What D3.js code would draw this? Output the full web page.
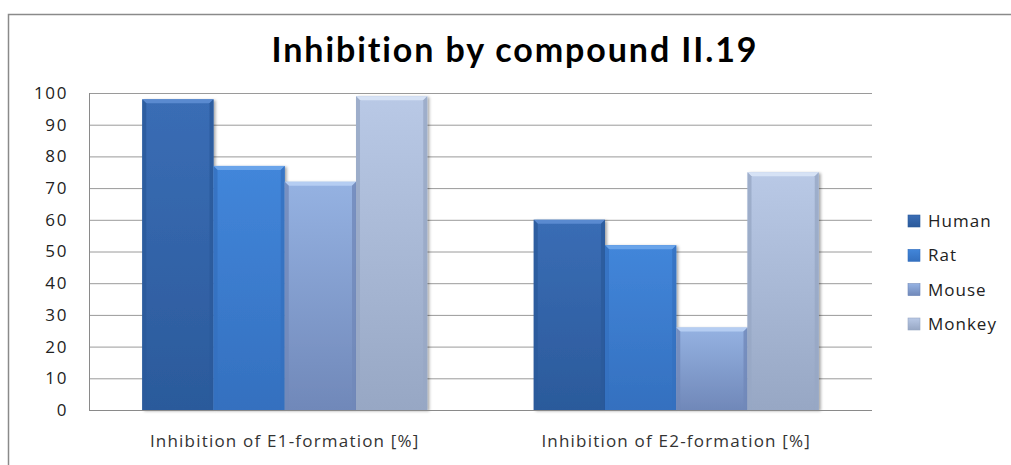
<!DOCTYPE html>
<html>
<head>
<meta charset="utf-8">
<script src="https://cdn.jsdelivr.net/npm/d3@7"></script>
<style>
  html, body { margin: 0; padding: 0; background: #fff; }
  svg text { font-family: "Open Sans", "Lato", sans-serif; }
</style>
</head>
<body>
<div id="chart"></div>
<script>
// data
const categories = ["Inhibition of E1-formation [%]", "Inhibition of E2-formation [%]"];
const seriesNames = ["Human", "Rat", "Mouse", "Monkey"];
const human = [98, 60];
const rat = [77, 52];
const mouse = [72, 26];
const monkey = [99, 75];
const yTicks = [0, 10, 20, 30, 40, 50, 60, 70, 80, 90, 100];
const title = "Inhibition by compound II.19";

// colours: [top of bar, bottom of bar, bevel highlight]
const colours = {
  Human:  ["#3a6db5", "#2b5a9b", "#5a8ad0"],
  Rat:    ["#4286da", "#3470bf", "#6aa4ea"],
  Mouse:  ["#95b2e2", "#7088b9", "#b5cdf2"],
  Monkey: ["#b9c9e6", "#97a7c4", "#d6e2f5"]
};

const W = 1011, H = 465;
const margin = { top: 93, right: 139, bottom: 55, left: 89 };

const svg = d3.select("#chart").append("svg")
    .attr("width", W)
    .attr("height", H);

const defs = svg.append("defs");
seriesNames.forEach((s) => {
  let g = defs.append("linearGradient")
      .attr("id", `grad-${s}`)
      .attr("x1", 0).attr("y1", 0).attr("x2", 0).attr("y2", 1);
  g.append("stop").attr("offset", "0%").attr("stop-color", colours[s][0]);
  g.append("stop").attr("offset", "100%").attr("stop-color", colours[s][1]);
});
let shadow = defs.append("filter").attr("id", "shadow")
    .attr("x", "-10%").attr("y", "-10%").attr("width", "130%").attr("height", "130%");
shadow.append("feDropShadow")
    .attr("dx", 2).attr("dy", 1).attr("stdDeviation", 1.5)
    .attr("flood-color", "#000").attr("flood-opacity", 0.35);

// outer chart border
svg.append("rect")
    .attr("x", 8.5).attr("y", 14.5)
    .attr("width", 1020).attr("height", 470)
    .attr("fill", "none")
    .attr("stroke", "#8a8a8a")
    .attr("stroke-width", 1.5);

svg.append("text")
    .attr("x", 515).attr("y", 62)
    .attr("text-anchor", "middle")
    .style("font-family", "Lato, 'Open Sans', sans-serif")
    .style("font-weight", "bold")
    .style("font-size", "34px")
    .style("letter-spacing", "1.9px")
    .attr("fill", "#000")
    .text(title);

const plotW = W - margin.left - margin.right;
const plotH = 410 - margin.top;

const plot = svg.append("g")
    .attr("transform", `translate(${margin.left},${margin.top})`);

const y = d3.scaleLinear().domain([0, 100]).range([plotH, 0]);
const x0 = d3.scaleBand().domain(categories).range([0, plotW])
    .paddingInner(0.272).paddingOuter(0.136);
const x1 = d3.scaleBand().domain(seriesNames).range([0, x0.bandwidth()]);

// gridlines
plot.append("g")
    .attr("class", "grid")
    .call(d3.axisLeft(y).tickValues(yTicks).tickSize(-plotW).tickFormat(""))
    .call(g => g.select(".domain").remove())
    .call(g => g.selectAll("line").attr("stroke", "#9a9a9a").attr("stroke-width", 1));

// y axis labels
plot.append("g")
    .call(d3.axisLeft(y).tickValues(yTicks).tickSize(0).tickPadding(21))
    .call(g => g.select(".domain").remove())
    .call(g => g.selectAll("text")
        .attr("fill", "#222")
        .style("font-size", "17px")
        .style("letter-spacing", "1.6px"));

// left axis line
plot.append("line")
    .attr("x1", 0.5).attr("x2", 0.5).attr("y1", 0).attr("y2", plotH)
    .attr("stroke", "#8a8a8a");

const rows = categories.map((c, i) => ({
  cat: c,
  values: [human[i], rat[i], mouse[i], monkey[i]]
}));

const groups = plot.selectAll("g.cat")
    .data(rows)
    .enter().append("g")
    .attr("class", "cat")
    .attr("transform", d => `translate(${x0(d.cat)},0)`);

const bars = groups.selectAll("g.bar")
    .data(d => d.values.map((v, i) => ({ s: seriesNames[i], v: v })))
    .enter().append("g")
    .attr("class", "bar")
    .attr("transform", d => `translate(${x1(d.s)},${y(d.v)})`);

bars.append("rect")
    .attr("width", x1.bandwidth())
    .attr("height", d => plotH - y(d.v))
    .attr("fill", d => `url(#grad-${d.s})`)
    .attr("filter", "url(#shadow)");

// bevel: light top edge, darker sides
const bev = 4;
bars.append("path")
    .attr("d", d => {
      let w = x1.bandwidth();
      return `M0,0H${w}L${w - bev},${bev}H${bev}Z`;
    })
    .attr("fill", d => colours[d.s][2]);

bars.append("path")
    .attr("d", d => {
      let h = plotH - y(d.v);
      return `M0,0L${bev},${bev}V${h}H0Z`;
    })
    .attr("fill", d => colours[d.s][1])
    .attr("opacity", 0.8);

bars.append("path")
    .attr("d", d => {
      let w = x1.bandwidth(), h = plotH - y(d.v);
      return `M${w},0L${w - bev},${bev}V${h}H${w}Z`;
    })
    .attr("fill", d => colours[d.s][1])
    .attr("opacity", 0.8);

// baseline
plot.append("line")
    .attr("x1", 0).attr("x2", plotW).attr("y1", plotH + 0.5).attr("y2", plotH + 0.5)
    .attr("stroke", "#8a8a8a");

// category labels
plot.selectAll("text.cat")
    .data(categories)
    .enter().append("text")
    .attr("class", "cat")
    .attr("x", d => x0(d) + x0.bandwidth() / 2)
    .attr("y", plotH + 37)
    .attr("text-anchor", "middle")
    .attr("fill", "#333")
    .style("font-size", "17px")
    .style("letter-spacing", "1.2px")
    .text(d => d);

// legend
const legend = svg.append("g")
    .attr("transform", "translate(908,221)");
const ly = d3.scalePoint().domain(seriesNames).range([0, 103]);

const item = legend.selectAll("g")
    .data(seriesNames)
    .enter().append("g")
    .attr("transform", d => `translate(0,${ly(d)})`);

item.append("rect")
    .attr("x", 0).attr("y", -6)
    .attr("width", 12).attr("height", 12)
    .attr("fill", d => `url(#grad-${d})`)
    .attr("stroke", d => colours[d][1])
    .attr("stroke-width", 0.6);

item.append("text")
    .attr("x", 20).attr("y", 0)
    .attr("dy", "0.35em")
    .attr("fill", "#222")
    .style("font-size", "17px")
    .style("letter-spacing", "1px")
    .text(d => d);
</script>
</body>
</html>
